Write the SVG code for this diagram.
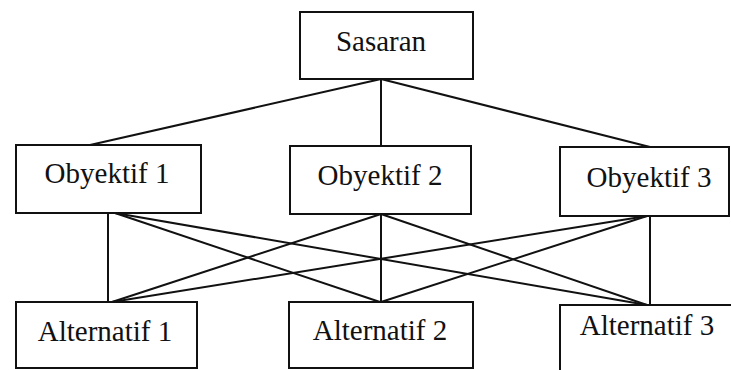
<svg xmlns="http://www.w3.org/2000/svg" width="731" height="370" viewBox="0 0 731 370">
<style>
.box{fill:#fff;stroke:#111;stroke-width:2}
.lbl{font-family:"Liberation Serif","Times New Roman",serif;font-size:29px;fill:#111;text-anchor:middle}
.ln{stroke:#111;stroke-width:2;fill:none}
</style>
<rect width="731" height="370" fill="#fff"/>
<g id="connectors">
<line class="ln" x1="381" y1="79" x2="90" y2="145"/>
<line class="ln" x1="381" y1="79" x2="381" y2="146"/>
<line class="ln" x1="381" y1="79" x2="650" y2="147"/>
<line class="ln" x1="108" y1="213" x2="108" y2="302"/>
<line class="ln" x1="115" y1="213" x2="380" y2="302"/>
<line class="ln" x1="115" y1="213" x2="647" y2="305"/>
<line class="ln" x1="381" y1="214" x2="112" y2="302"/>
<line class="ln" x1="381" y1="214" x2="381" y2="302"/>
<line class="ln" x1="381" y1="214" x2="647" y2="305"/>
<line class="ln" x1="647" y1="216" x2="112" y2="302"/>
<line class="ln" x1="647" y1="216" x2="381" y2="302"/>
<line class="ln" x1="650" y1="216" x2="650" y2="305"/>
</g>
<g id="sasaran"><rect class="box" x="300" y="12" width="173" height="67"/><text class="lbl" x="381" y="51">Sasaran</text></g>
<g id="obyektif1"><rect class="box" x="16" y="145" width="185" height="68"/><text class="lbl" x="107" y="183">Obyektif 1</text></g>
<g id="obyektif2"><rect class="box" x="290" y="146" width="181" height="68"/><text class="lbl" x="380" y="185">Obyektif 2</text></g>
<g id="obyektif3"><rect class="box" x="560" y="147" width="169" height="69"/><text class="lbl" x="649" y="187">Obyektif 3</text></g>
<g id="alternatif1"><rect class="box" x="16" y="302" width="181" height="66"/><text class="lbl" x="105" y="341">Alternatif 1</text></g>
<g id="alternatif2"><rect class="box" x="289" y="302" width="184" height="66"/><text class="lbl" x="380" y="340">Alternatif 2</text></g>
<g id="alternatif3"><rect class="box" x="560" y="305" width="175" height="70"/><text class="lbl" x="647" y="335">Alternatif 3</text></g>
</svg>
